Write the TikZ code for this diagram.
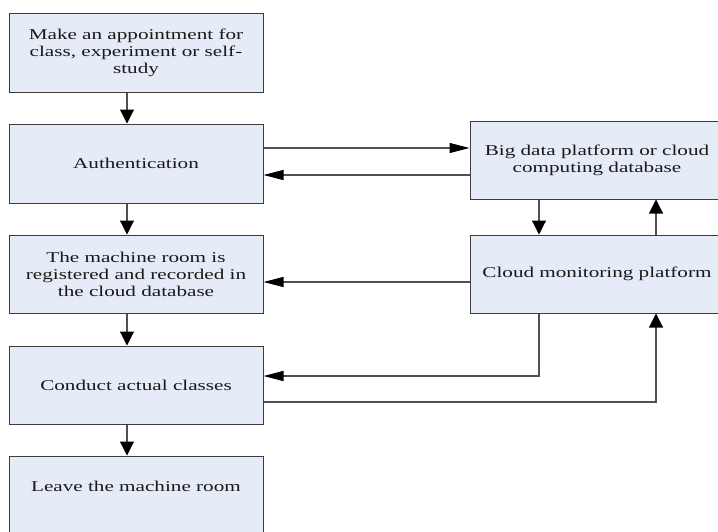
\documentclass[tikz,border=0pt]{standalone}
\usepackage{fontspec}
\setmainfont{Liberation Serif}[FakeStretch=1.41]
\usetikzlibrary{arrows.meta,calc}
\definecolor{boxfill}{RGB}{230,236,247}
\definecolor{edge}{RGB}{60,60,60}
\definecolor{conn}{RGB}{80,80,80}
\begin{document}
\begin{tikzpicture}[x=1pt,y=-1pt,
  box/.style={draw=edge,line width=1pt,fill=boxfill,minimum width=254pt,inner sep=0pt,
    align=center,text=black!90,font=\fontsize{15}{17}\selectfont},
  lbl/.style={inner sep=0pt,align=center,text=black!90,font=\fontsize{15}{17}\selectfont},
  harr/.style={draw=conn,line width=1.1pt,-{Triangle[length=20pt,width=10pt,fill=black,color=black]}},
  varr/.style={draw=conn,line width=1.1pt,-{Triangle[length=14pt,width=14pt,fill=black,color=black]}},
  plain/.style={draw=conn,line width=1.1pt}]
\clip (0,0) rectangle (718,531);
\fill[white] (0,0) rectangle (718,531);
% left column
\node[box,minimum height=79pt] (n1) at (136,52.5) {Make an appointment for\\class, experiment or self-\\study};
\node[box,minimum height=79pt] (n2) at (136,163.5) {Authentication};
\node[box,minimum height=78pt] (n3) at (136,274) {The machine room is\\registered and recorded in\\the cloud database};
\node[box,minimum height=78pt] (n4) at (136,385) {Conduct actual classes};
\node[box,minimum height=79pt] (n5) at (136,495.5) {};
\node[lbl] (t5) at (136,486) {Leave the machine room};
% right column
\node[box,minimum height=78pt] (a) at (597,160) {Big data platform or cloud\\computing database};
\node[box,minimum height=78pt] (b) at (597,274) {Cloud monitoring platform};
% vertical flow on the left
\draw[varr] ([xshift=-9pt]n1.south) -- ([xshift=-9pt]n2.north);
\draw[varr] ([xshift=-9pt]n2.south) -- ([xshift=-9pt]n3.north);
\draw[varr] ([xshift=-9pt]n3.south) -- ([xshift=-9pt]n4.north);
\draw[varr] ([xshift=-9pt]n4.south) -- ([xshift=-9pt]n5.north);
% Authentication <-> big data
\draw[harr] ([yshift=15.5pt]n2.east) -- ([yshift=15.5pt]n2.east -| a.west);
\draw[harr] ([yshift=-15pt]a.west) -- ([yshift=-15pt]a.west -| n2.east);
% big data <-> cloud monitoring
\draw[varr] ([xshift=-58pt]a.south) -- ([xshift=-58pt]a.south |- b.north);
\draw[varr] ([xshift=59pt]b.north) -- ([xshift=59pt]b.north |- a.south);
% cloud monitoring -> machine room
\draw[harr] ([yshift=-8pt]b.west) -- ([yshift=-8pt]b.west -| n3.east);
% cloud monitoring -> classes
\draw[harr] ([xshift=-58pt]b.south) |- ([yshift=9pt]n4.east);
% classes -> cloud monitoring
\draw[varr] ([yshift=-17pt]n4.east) -| ([xshift=59pt]b.south);
\end{tikzpicture}
\end{document}
